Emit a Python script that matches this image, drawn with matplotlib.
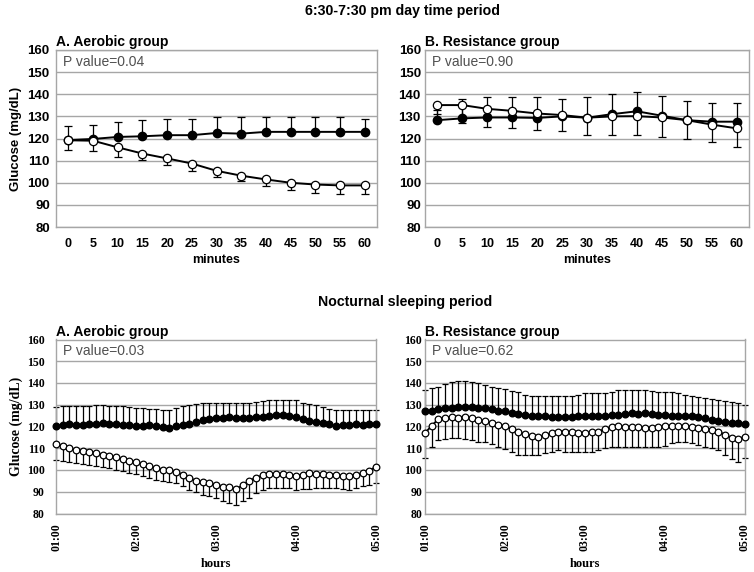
import numpy as np
import matplotlib.pyplot as plt

SANS = ["Liberation Sans", "DejaVu Sans"]
SERIF = ["Liberation Serif", "DejaVu Serif"]
GRID = "#a6a6a6"

# day time period, 0-60 min
minutes = [0, 5, 10, 15, 20, 25, 30, 35, 40, 45, 50, 55, 60]
aer_day_filled = [119.3, 119.8, 120.7, 121.0, 121.5, 121.5, 122.5, 122.2, 123.0, 123.0, 123.0, 123.0, 123.0]
aer_day_filled_hi = [125.6, 125.9, 127.5, 128.3, 129.0, 129.0, 129.5, 129.5, 129.8, 129.8, 129.5, 129.8, 129.0]
aer_day_open = [119.2, 119.0, 116.0, 113.2, 111.0, 108.7, 105.4, 103.2, 101.5, 100.0, 99.2, 98.8, 98.8]
aer_day_open_lo = [114.7, 114.4, 111.7, 110.2, 108.0, 105.4, 102.6, 100.7, 98.6, 96.9, 95.5, 95.1, 95.1]
res_day_filled = [128.3, 129.1, 129.5, 129.5, 129.3, 130.0, 129.4, 131.0, 132.3, 130.3, 128.3, 127.6, 127.6]
res_day_filled_hi = [133.0, 137.8, 138.6, 138.6, 138.6, 137.8, 138.6, 140.0, 140.9, 139.2, 137.0, 135.9, 135.9]
res_day_open = [135.1, 135.1, 133.4, 132.5, 131.3, 130.6, 129.4, 130.0, 130.1, 129.5, 128.3, 126.3, 124.6]
res_day_open_lo = [131.0, 127.1, 125.0, 124.6, 123.8, 123.5, 121.5, 121.5, 121.5, 120.8, 119.7, 118.5, 116.3]

# nocturnal period, 5-min samples 01:00-05:00
hour_labels = ["01:00", "02:00", "03:00", "04:00", "05:00"]
aer_night_filled = [120.0, 120.8, 121.0, 120.5, 120.8, 121.0, 121.2, 121.5, 121.2,
                    121.0, 120.8, 120.5, 120.0, 120.2, 120.5, 120.2, 119.8, 119.5,
                    120.0, 120.5, 121.0, 122.0, 123.0, 123.5, 124.0,
                    124.0, 124.2, 124.0, 123.8, 124.0, 124.2, 124.5, 125.0, 125.3, 125.5, 125.0,
                    124.5, 123.5, 122.7, 122.0, 121.8, 121.0, 120.2, 120.5, 120.8, 121.0, 120.8, 121.0, 121.0]
aer_night_filled_hi = [129.0, 129.2, 129.4, 129.4, 129.6, 129.6, 129.8, 129.8, 129.6,
                       129.4, 129.2, 129.0, 128.6, 128.4, 128.0, 128.0, 127.8, 127.6,
                       128.6, 129.4, 130.0, 130.5, 130.8, 131.0, 131.0,
                       131.0, 131.0, 130.8, 130.8, 131.0, 131.2, 131.5, 132.0, 132.3, 132.3, 132.2,
                       132.0, 131.0, 130.5, 129.8, 128.8, 128.0, 127.6, 127.6, 127.8, 127.8, 127.6, 127.6, 127.8]
aer_night_open = [112.0, 111.0, 110.0, 109.0, 108.8, 108.4, 108.0, 107.0, 106.3, 105.8,
                  105.0, 104.3, 103.5, 102.7, 101.7, 100.9, 100.2, 100.2, 99.1, 97.9,
                  96.3, 95.1, 94.4, 93.9, 93.3, 92.4, 92.0, 91.1, 93.0, 95.0,
                  96.5, 97.5, 98.2, 98.2, 98.2, 97.9, 97.2, 97.9, 98.4, 98.2,
                  98.2, 97.9, 97.9, 97.2, 97.4, 97.9, 98.6, 99.7, 101.5]
aer_night_open_lo = [104.7, 104.2, 103.7, 103.2, 102.7, 102.2, 101.7, 101.2, 100.7, 100.2,
                     99.5, 98.8, 98.2, 97.4, 96.5, 95.6, 95.0, 94.5, 94.0, 92.5,
                     91.0, 89.8, 88.7, 88.0, 87.2, 85.6, 84.9, 84.1, 85.6, 87.2,
                     89.5, 91.0, 91.8, 91.8, 91.8, 91.8, 91.0, 91.2, 91.3, 91.5,
                     91.8, 91.8, 91.8, 91.4, 91.0, 91.8, 92.5, 93.2, 94.0]
res_night_filled = [126.9, 127.3, 127.9, 128.4, 128.4, 128.9, 128.9, 128.9, 128.4, 128.4, 127.9, 127.3, 126.9,
                    126.1, 125.8, 125.3, 124.9, 124.6, 124.6, 124.4, 124.2, 124.2, 124.4, 124.6, 124.6, 124.6, 124.8, 125.0,
                    125.3, 125.5, 125.8, 126.0, 125.8, 126.1, 125.6, 125.3, 125.3,
                    125.0, 124.8, 124.6, 124.6, 124.2, 123.8, 123.2, 122.7, 122.2, 121.8, 121.5, 121.2]
res_night_filled_hi = [136.8, 137.9, 138.3, 139.5, 140.6, 141.0, 141.0, 140.6, 139.8, 139.1, 138.3, 137.9, 137.3,
                       136.5, 135.7, 134.5, 134.2, 134.2, 134.2, 134.2, 134.2, 134.2, 134.2, 134.5, 135.3, 135.3, 135.3, 135.3,
                       136.0, 136.8, 136.8, 136.8, 136.8, 136.8, 136.3, 136.0, 136.0,
                       136.0, 135.3, 134.6, 134.0, 133.5, 133.0, 132.6, 132.2, 131.8, 131.4, 130.6, 129.9]
res_night_open = [117.0, 120.3, 123.4, 123.8, 124.3, 124.1, 124.3, 123.8, 123.0, 122.3, 121.8, 120.8, 120.0,
                  118.8, 117.7, 116.5, 115.7, 115.4, 115.9, 117.0, 117.7, 117.7, 117.3, 117.0, 117.0, 117.3, 117.7, 118.8,
                  119.7, 120.0, 119.7, 119.7, 119.7, 119.2, 119.2, 119.7, 120.0,
                  120.3, 120.3, 120.0, 119.7, 119.2, 118.8, 118.5, 117.7, 116.2, 114.7, 114.2, 115.4]
res_night_open_lo = [105.5, 110.8, 113.9, 114.2, 114.7, 114.7, 114.4, 113.9, 113.1, 112.8, 112.1, 110.8, 109.6,
                     108.2, 107.0, 106.7, 106.7, 107.0, 107.8, 108.5, 109.0, 108.1, 108.1, 108.1, 108.1, 108.2, 109.0, 110.1,
                     110.8, 110.8, 110.8, 110.8, 110.8, 110.8, 110.8, 110.8, 111.1,
                     112.4, 112.7, 112.7, 112.4, 111.6, 110.8, 110.1, 109.0, 107.0, 105.0, 103.5, 105.5]


def draw_panel(ax, x, filled, filled_hi, opn, opn_lo, ms, cap):
    filled, opn = np.asarray(filled), np.asarray(opn)
    up = np.asarray(filled_hi) - filled
    dn = opn - np.asarray(opn_lo)
    z = np.zeros_like(up)
    eb = dict(fmt="none", ecolor="black", elinewidth=0.9, capsize=cap, capthick=0.9, zorder=2, clip_on=False)
    ax.errorbar(x, filled, yerr=[z, up], **eb)
    ax.errorbar(x, opn, yerr=[dn, z], **eb)
    ax.plot(x, filled, "-o", color="black", mfc="black", mec="black", ms=ms, lw=1.4, zorder=3, clip_on=False)
    ax.plot(x, opn, "-o", color="black", mfc="white", mec="black", ms=ms, mew=0.9, lw=1.4, zorder=4, clip_on=False)
    ax.set_ylim(80, 160); ax.set_yticks(range(80, 161, 10))
    ax.grid(axis="y", color=GRID, lw=1); ax.set_axisbelow(True)
    for s in ax.spines.values():
        s.set_color(GRID); s.set_linewidth(1)
    ax.tick_params(length=0)


def panel_text(ax, title, pval):
    ax.text(0.0, 1.02, title, transform=ax.transAxes, family=SANS, fontweight="bold", fontsize=10, va="baseline")
    ax.text(0.022, 0.932, pval, transform=ax.transAxes, family=SANS, fontsize=10, color="#505050", va="center")


def day_axis(ax, title, pval, ypad):
    ax.set_xlim(-0.5, len(minutes) - 0.5)
    ax.set_xticks(range(len(minutes)), [str(m) for m in minutes])
    ax.tick_params(axis="x", pad=8); ax.tick_params(axis="y", pad=ypad)
    for lab in ax.get_xticklabels():
        lab.set_family(SANS); lab.set_fontweight("bold"); lab.set_fontsize(9)
    for lab in ax.get_yticklabels():
        lab.set_family(SANS); lab.set_fontweight("bold"); lab.set_fontsize(9.5)
    ax.set_xlabel("minutes", family=SANS, fontweight="bold", fontsize=9, labelpad=3)
    panel_text(ax, title, pval)


def night_axis(ax, title, pval, ypad):
    n = len(aer_night_filled)
    ax.set_xlim(0, n - 1)
    ax.set_xticks(np.linspace(0, n - 1, len(hour_labels)), hour_labels, rotation=90)
    ax.tick_params(axis="x", pad=7); ax.tick_params(axis="y", pad=ypad)
    for lab in ax.get_xticklabels() + ax.get_yticklabels():
        lab.set_family(SERIF); lab.set_fontweight("bold"); lab.set_fontsize(8.5)
    ax.set_xlabel("hours", family=SERIF, fontweight="bold", fontsize=9, labelpad=5)
    panel_text(ax, title, pval)


fig = plt.figure(figsize=(7.54, 5.72), dpi=100)
W, H = 754.0, 572.0
def box(x0, x1, y0, y1):
    return [x0 / W, 1 - y1 / H, (x1 - x0) / W, (y1 - y0) / H]

ax1 = fig.add_axes(box(56, 377, 50, 227))
ax2 = fig.add_axes(box(425, 749, 50, 227))
ax3 = fig.add_axes(box(56, 376, 339.5, 513.5))
ax4 = fig.add_axes(box(425, 745, 339.5, 513.5))

x_day = np.arange(len(minutes))
x_night = np.arange(len(aer_night_filled))
draw_panel(ax1, x_day, aer_day_filled, aer_day_filled_hi, aer_day_open, aer_day_open_lo, 6.0, 2.6)
draw_panel(ax2, x_day, res_day_filled, res_day_filled_hi, res_day_open, res_day_open_lo, 6.0, 2.6)
draw_panel(ax3, x_night, aer_night_filled, aer_night_filled_hi, aer_night_open, aer_night_open_lo, 4.8, 2.0)
draw_panel(ax4, x_night, res_night_filled, res_night_filled_hi, res_night_open, res_night_open_lo, 4.8, 2.0)

day_axis(ax1, "A. Aerobic group", "P value=0.04", 4.5)
day_axis(ax2, "B. Resistance group", "P value=0.90", 3)
night_axis(ax3, "A. Aerobic group", "P value=0.03", 8)
night_axis(ax4, "B. Resistance group", "P value=0.62", 2)

ax1.set_ylabel("Glucose (mg/dL)", family=SANS, fontweight="bold", fontsize=9.5, labelpad=4)
ax3.set_ylabel("Glucose (mg/dL)", family=SERIF, fontweight="bold", fontsize=10, labelpad=3)

fig.text(403 / W, 1 - 11 / H, "6:30-7:30 pm day time period", ha="center", va="center",
         family=SANS, fontweight="bold", fontsize=10.2)
fig.text(405 / W, 1 - 302 / H, "Nocturnal sleeping period", ha="center", va="center",
         family=SANS, fontweight="bold", fontsize=10.2)

fig.savefig("out.png", dpi=100)
